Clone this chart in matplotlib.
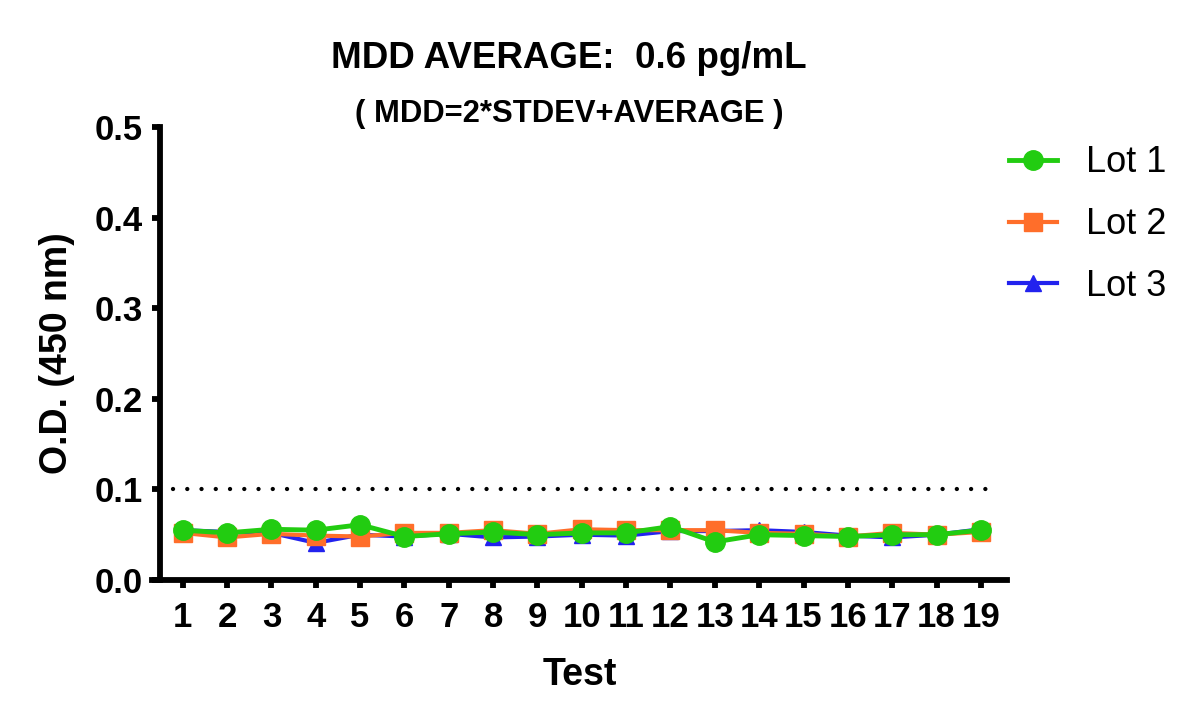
import matplotlib
matplotlib.use("Agg")
import matplotlib.pyplot as plt
import numpy as np

tests = np.arange(1, 20)
lot1 = [0.055, 0.052, 0.056, 0.055, 0.061, 0.048, 0.051, 0.053, 0.050, 0.052,
        0.052, 0.059, 0.042, 0.050, 0.049, 0.048, 0.050, 0.050, 0.055]
lot2 = [0.052, 0.047, 0.051, 0.049, 0.048, 0.052, 0.052, 0.055, 0.051, 0.056,
        0.055, 0.055, 0.055, 0.052, 0.051, 0.048, 0.052, 0.050, 0.053]
lot3 = [0.055, 0.053, 0.052, 0.041, 0.050, 0.048, 0.051, 0.047, 0.048, 0.050,
        0.049, 0.054, 0.054, 0.055, 0.053, 0.049, 0.047, 0.050, 0.056]
threshold = 0.1

plt.rcParams['font.family'] = ['Liberation Sans', 'DejaVu Sans']

fig = plt.figure(figsize=(12, 7.27), dpi=100)
ax = fig.add_axes([0.1267, 0.2022, 0.7125, 0.6231])

ax.plot(tests, lot3, color='#2222EE', lw=3, marker='^', ms=12, label='Lot 3', zorder=3)
ax.plot(tests, lot2, color='#FF6E2A', lw=3, marker='s', ms=13, label='Lot 2', zorder=4)
ax.plot(tests, lot1, color='#22CC11', lw=3.5, marker='o', ms=14, label='Lot 1', zorder=5)
# dotted cut-off line, GraphPad style
ax.axhline(threshold, xmin=0.025, xmax=0.989, color='black', ls=(0, (0.01, 3.3)),
           lw=3.1, dash_capstyle='round', zorder=2)

ax.set_xlim(0.308, 19.59)
ax.set_ylim(0, 0.5)
ax.set_xticks(tests)
ax.set_yticks(np.arange(0, 0.51, 0.1))
ax.set_yticklabels(['0.0', '0.1', '0.2', '0.3', '0.4', '0.5'])
for s in ['top', 'right']:
    ax.spines[s].set_visible(False)
for s in ['left', 'bottom']:
    ax.spines[s].set_linewidth(4.2)
ax.spines['left'].set_position(('data', 0.477))
ax.tick_params(width=4.2, length=6, labelsize=25)
ax.tick_params(axis='x', pad=9)
ax.tick_params(axis='y', pad=6)
for lbl in ax.get_xticklabels() + ax.get_yticklabels():
    lbl.set_fontweight('bold')

ax.set_xlabel('Test', fontsize=27, fontweight='bold', labelpad=17)
ax.set_ylabel('O.D. (450 nm)', fontsize=27, fontweight='bold', labelpad=14)

fig.text(0.474, 0.919, 'MDD AVERAGE:  0.6 pg/mL', ha='center', va='center',
         fontsize=26.5, fontweight='bold')
fig.text(0.474, 0.843, '( MDD=2*STDEV+AVERAGE )', ha='center', va='center',
         fontsize=22.3, fontweight='bold')

handles, labels = ax.get_legend_handles_labels()
order = [2, 1, 0]
ax.legend([handles[i] for i in order], [labels[i] for i in order],
          loc='upper left', bbox_to_anchor=(0.964, 1.031), frameon=False,
          fontsize=26, handlelength=1.33, handletextpad=0.8, labelspacing=0.74)

fig.savefig('out.png', dpi=100)
